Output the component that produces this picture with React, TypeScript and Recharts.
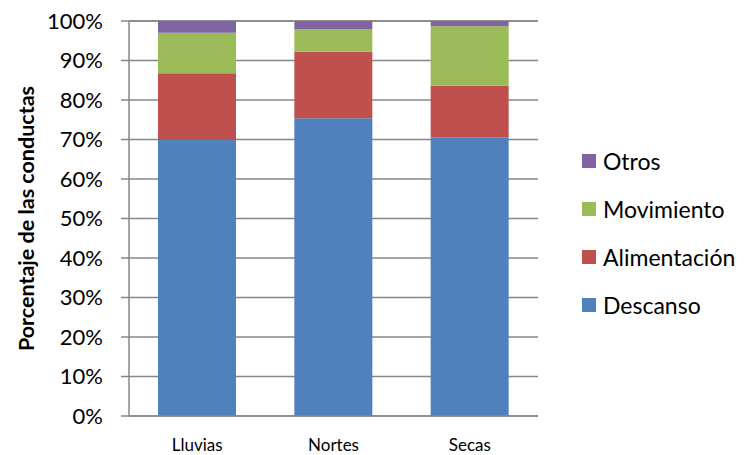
import React from 'react';
import { BarChart, Bar, XAxis, YAxis, CartesianGrid, Label } from 'recharts';

// Temporadas
const categories = ['Lluvias', 'Nortes', 'Secas'];

// Porcentaje de cada conducta por temporada
const descanso = [69.9, 75.4, 70.6];
const alimentacion = [16.9, 16.8, 13.0];
const movimiento = [10.2, 5.8, 15.1];
const otros = [3.0, 2.0, 1.3];

const yTicks = [0, 10, 20, 30, 40, 50, 60, 70, 80, 90, 100];

const series = [
  { key: 'Descanso', values: descanso, color: '#4F81BD' },
  { key: 'Alimentación', values: alimentacion, color: '#C0504D' },
  { key: 'Movimiento', values: movimiento, color: '#9BBB59' },
  { key: 'Otros', values: otros, color: '#8064A2' },
];

const data = categories.map((name, i) => {
  const row: Record<string, string | number> = { name };
  series.forEach((s) => {
    row[s.key] = s.values[i];
  });
  return row;
});

const FONT = 'Lato, "Open Sans", sans-serif';
const GRID = '#878787';

const YLabel = (props: any) => {
  const vb = props.viewBox || { x: 0, y: 0, width: 0, height: 0 };
  const cx = vb.x + 26;
  const cy = vb.y + vb.height / 2;
  return (
    <text
      x={cx}
      y={cy}
      transform={`rotate(-90 ${cx} ${cy})`}
      textAnchor="middle"
      dominantBaseline="central"
      fontFamily={FONT}
      fontWeight="bold"
      fontSize={21.5}
      fill="#000"
    >
      Porcentaje de las conductas
    </text>
  );
};

export default function App() {
  return (
    <div style={{ position: 'absolute', left: 0, top: 0, width: 746, height: 455, background: '#fff' }}>
      <BarChart
        width={746}
        height={455}
        data={data}
        margin={{ top: 21, right: 208, bottom: 0, left: 0 }}
        barSize={78}
      >
        <CartesianGrid vertical={false} stroke={GRID} strokeWidth={1.5} />
        <XAxis
          dataKey="name"
          height={39}
          axisLine={{ stroke: GRID, strokeWidth: 1.5 }}
          tickLine={false}
          tickSize={0}
          tickMargin={23}
          tick={{ fill: '#000', fontSize: 17, fontFamily: FONT }}
        />
        <YAxis
          width={129}
          domain={[0, 100]}
          ticks={yTicks}
          interval={0}
          tickFormatter={(v: number) => `${v}%`}
          axisLine={{ stroke: GRID, strokeWidth: 1.5 }}
          tickLine={{ stroke: GRID, strokeWidth: 1.5 }}
          tickSize={8}
          tickMargin={18}
          tick={{ fill: '#000', fontSize: 22, fontFamily: FONT }}
        >
          <Label content={<YLabel />} />
        </YAxis>
        {series.map((s) => (
          <Bar key={s.key} dataKey={s.key} stackId="a" fill={s.color} isAnimationActive={false} />
        ))}
      </BarChart>
      <div style={{ position: 'absolute', left: 582, top: 137, fontFamily: FONT, fontSize: 23, color: '#000' }}>
        {[...series].reverse().map((s) => (
          <div key={s.key} style={{ display: 'flex', alignItems: 'center', height: 48 }}>
            <span style={{ width: 14, height: 14, background: s.color, display: 'inline-block', marginRight: 7 }} />
            <span>{s.key}</span>
          </div>
        ))}
      </div>
    </div>
  );
}
